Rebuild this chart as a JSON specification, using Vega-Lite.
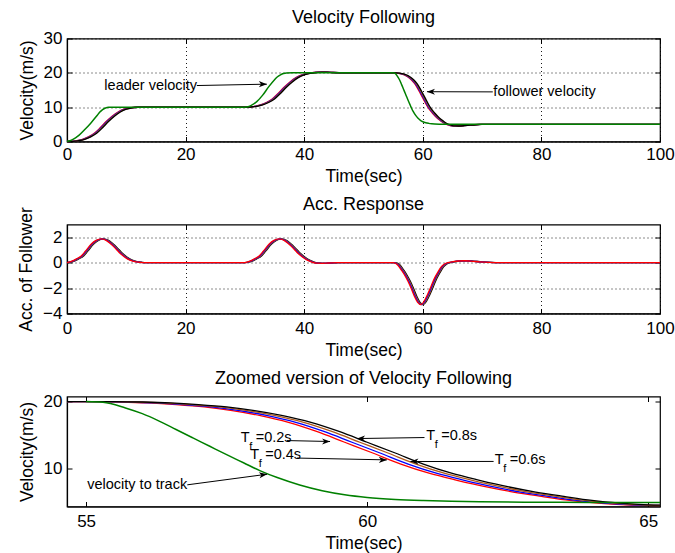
{
"$schema": "https://vega.github.io/schema/vega-lite/v6.json",
"padding": {"left": 17, "top": 7.5, "right": 0, "bottom": 0},
"spacing": 8,
"config": {
 "font": "Liberation Sans",
 "view": {"stroke": "#000", "strokeWidth": 1.2},
 "title": {"fontSize": 18, "fontWeight": "normal", "color": "#000", "offset": 10},
 "axis": {"labelFontSize": 17, "titleFontSize": 17.5, "titleFontWeight": "normal", "labelColor": "#000", "titleColor": "#000", "domainColor": "#000", "domainWidth": 1.2, "tickColor": "#000", "tickSize": -5, "tickWidth": 1, "labelPadding": 10, "titlePadding": 5, "gridColor": "#000", "gridDash": [1, 3], "gridOpacity": 0.9, "gridWidth": 1, "labelFlush": false, "labelOverlap": false},
 "axisY": {"titlePadding": 7}
},
"datasets": {
 "vel": [
  {"s":"0.2","t":0,"v":0},{"s":"0.2","t":0.6,"v":0.05},{"s":"0.2","t":1.6,"v":0.25},{"s":"0.2","t":2.6,"v":0.65},{"s":"0.2","t":3.6,"v":1.35},{"s":"0.2","t":4.6,"v":2.4},{"s":"0.2","t":5.6,"v":4.0},{"s":"0.2","t":6.6,"v":5.8},{"s":"0.2","t":7.6,"v":7.35},{"s":"0.2","t":8.6,"v":8.6},{"s":"0.2","t":9.6,"v":9.4},{"s":"0.2","t":10.6,"v":9.8},{"s":"0.2","t":11.6,"v":9.97},{"s":"0.2","t":12.6,"v":10.02},{"s":"0.2","t":13.6,"v":10.02},{"s":"0.2","t":16,"v":10},{"s":"0.2","t":30,"v":10},
  {"s":"0.2","t":30.6,"v":10.05},{"s":"0.2","t":31.6,"v":10.25},{"s":"0.2","t":32.6,"v":10.65},{"s":"0.2","t":33.6,"v":11.35},{"s":"0.2","t":34.6,"v":12.4},{"s":"0.2","t":35.6,"v":14.0},{"s":"0.2","t":36.6,"v":15.8},{"s":"0.2","t":37.6,"v":17.35},{"s":"0.2","t":38.6,"v":18.6},{"s":"0.2","t":39.6,"v":19.4},{"s":"0.2","t":40.6,"v":19.85},{"s":"0.2","t":41.6,"v":20.1},{"s":"0.2","t":42.6,"v":20.2},{"s":"0.2","t":43.6,"v":20.18},{"s":"0.2","t":44.6,"v":20.1},{"s":"0.2","t":46.6,"v":20.02},{"s":"0.2","t":50,"v":20},{"s":"0.2","t":55,"v":20},
  {"s":"0.2","t":55.1,"v":19.99},{"s":"0.2","t":55.6,"v":19.93},{"s":"0.2","t":56.1,"v":19.8},{"s":"0.2","t":56.6,"v":19.55},{"s":"0.2","t":57.1,"v":19.2},{"s":"0.2","t":57.6,"v":18.65},{"s":"0.2","t":58.1,"v":17.9},{"s":"0.2","t":58.6,"v":16.9},{"s":"0.2","t":59.1,"v":15.55},{"s":"0.2","t":59.6,"v":13.95},{"s":"0.2","t":60.1,"v":12.35},{"s":"0.2","t":60.6,"v":10.7},{"s":"0.2","t":61.1,"v":9.35},{"s":"0.2","t":61.6,"v":8.3},{"s":"0.2","t":62.1,"v":7.35},{"s":"0.2","t":62.6,"v":6.55},{"s":"0.2","t":63.1,"v":5.9},{"s":"0.2","t":63.6,"v":5.3},{"s":"0.2","t":64.1,"v":4.9},{"s":"0.2","t":64.6,"v":4.65},{"s":"0.2","t":65.1,"v":4.55},{"s":"0.2","t":65.6,"v":4.52},{"s":"0.2","t":66.6,"v":4.6},{"s":"0.2","t":67.6,"v":4.75},{"s":"0.2","t":68.6,"v":4.88},{"s":"0.2","t":69.6,"v":4.96},{"s":"0.2","t":71.6,"v":5.0},{"s":"0.2","t":100,"v":5},

  {"s":"0.4","t":0,"v":0},{"s":"0.4","t":0.73,"v":0.05},{"s":"0.4","t":1.73,"v":0.25},{"s":"0.4","t":2.73,"v":0.65},{"s":"0.4","t":3.73,"v":1.35},{"s":"0.4","t":4.73,"v":2.4},{"s":"0.4","t":5.73,"v":4.0},{"s":"0.4","t":6.73,"v":5.8},{"s":"0.4","t":7.73,"v":7.35},{"s":"0.4","t":8.73,"v":8.6},{"s":"0.4","t":9.73,"v":9.4},{"s":"0.4","t":10.73,"v":9.8},{"s":"0.4","t":11.73,"v":9.97},{"s":"0.4","t":12.73,"v":10.02},{"s":"0.4","t":13.73,"v":10.02},{"s":"0.4","t":16,"v":10},{"s":"0.4","t":30,"v":10},
  {"s":"0.4","t":30.73,"v":10.05},{"s":"0.4","t":31.73,"v":10.25},{"s":"0.4","t":32.73,"v":10.65},{"s":"0.4","t":33.73,"v":11.35},{"s":"0.4","t":34.73,"v":12.4},{"s":"0.4","t":35.73,"v":14.0},{"s":"0.4","t":36.73,"v":15.8},{"s":"0.4","t":37.73,"v":17.35},{"s":"0.4","t":38.73,"v":18.6},{"s":"0.4","t":39.73,"v":19.4},{"s":"0.4","t":40.73,"v":19.85},{"s":"0.4","t":41.73,"v":20.1},{"s":"0.4","t":42.73,"v":20.2},{"s":"0.4","t":43.73,"v":20.18},{"s":"0.4","t":44.73,"v":20.1},{"s":"0.4","t":46.73,"v":20.02},{"s":"0.4","t":50,"v":20},{"s":"0.4","t":55,"v":20},
  {"s":"0.4","t":55.23,"v":19.99},{"s":"0.4","t":55.73,"v":19.93},{"s":"0.4","t":56.23,"v":19.8},{"s":"0.4","t":56.73,"v":19.55},{"s":"0.4","t":57.23,"v":19.2},{"s":"0.4","t":57.73,"v":18.65},{"s":"0.4","t":58.23,"v":17.9},{"s":"0.4","t":58.73,"v":16.9},{"s":"0.4","t":59.23,"v":15.55},{"s":"0.4","t":59.73,"v":13.95},{"s":"0.4","t":60.23,"v":12.35},{"s":"0.4","t":60.73,"v":10.7},{"s":"0.4","t":61.23,"v":9.35},{"s":"0.4","t":61.73,"v":8.3},{"s":"0.4","t":62.23,"v":7.35},{"s":"0.4","t":62.73,"v":6.55},{"s":"0.4","t":63.23,"v":5.9},{"s":"0.4","t":63.73,"v":5.3},{"s":"0.4","t":64.23,"v":4.9},{"s":"0.4","t":64.73,"v":4.65},{"s":"0.4","t":65.23,"v":4.55},{"s":"0.4","t":65.73,"v":4.52},{"s":"0.4","t":66.73,"v":4.6},{"s":"0.4","t":67.73,"v":4.75},{"s":"0.4","t":68.73,"v":4.88},{"s":"0.4","t":69.73,"v":4.96},{"s":"0.4","t":71.73,"v":5.0},{"s":"0.4","t":100,"v":5},

  {"s":"0.6","t":0,"v":0},{"s":"0.6","t":0.87,"v":0.05},{"s":"0.6","t":1.87,"v":0.25},{"s":"0.6","t":2.87,"v":0.65},{"s":"0.6","t":3.87,"v":1.35},{"s":"0.6","t":4.87,"v":2.4},{"s":"0.6","t":5.87,"v":4.0},{"s":"0.6","t":6.87,"v":5.8},{"s":"0.6","t":7.87,"v":7.35},{"s":"0.6","t":8.87,"v":8.6},{"s":"0.6","t":9.87,"v":9.4},{"s":"0.6","t":10.87,"v":9.8},{"s":"0.6","t":11.87,"v":9.97},{"s":"0.6","t":12.87,"v":10.02},{"s":"0.6","t":13.87,"v":10.02},{"s":"0.6","t":16,"v":10},{"s":"0.6","t":30,"v":10},
  {"s":"0.6","t":30.87,"v":10.05},{"s":"0.6","t":31.87,"v":10.25},{"s":"0.6","t":32.87,"v":10.65},{"s":"0.6","t":33.87,"v":11.35},{"s":"0.6","t":34.87,"v":12.4},{"s":"0.6","t":35.87,"v":14.0},{"s":"0.6","t":36.87,"v":15.8},{"s":"0.6","t":37.87,"v":17.35},{"s":"0.6","t":38.87,"v":18.6},{"s":"0.6","t":39.87,"v":19.4},{"s":"0.6","t":40.87,"v":19.85},{"s":"0.6","t":41.87,"v":20.1},{"s":"0.6","t":42.87,"v":20.2},{"s":"0.6","t":43.87,"v":20.18},{"s":"0.6","t":44.87,"v":20.1},{"s":"0.6","t":46.87,"v":20.02},{"s":"0.6","t":50,"v":20},{"s":"0.6","t":55,"v":20},
  {"s":"0.6","t":55.37,"v":19.99},{"s":"0.6","t":55.87,"v":19.93},{"s":"0.6","t":56.37,"v":19.8},{"s":"0.6","t":56.87,"v":19.55},{"s":"0.6","t":57.37,"v":19.2},{"s":"0.6","t":57.87,"v":18.65},{"s":"0.6","t":58.37,"v":17.9},{"s":"0.6","t":58.87,"v":16.9},{"s":"0.6","t":59.37,"v":15.55},{"s":"0.6","t":59.87,"v":13.95},{"s":"0.6","t":60.37,"v":12.35},{"s":"0.6","t":60.87,"v":10.7},{"s":"0.6","t":61.37,"v":9.35},{"s":"0.6","t":61.87,"v":8.3},{"s":"0.6","t":62.37,"v":7.35},{"s":"0.6","t":62.87,"v":6.55},{"s":"0.6","t":63.37,"v":5.9},{"s":"0.6","t":63.87,"v":5.3},{"s":"0.6","t":64.37,"v":4.9},{"s":"0.6","t":64.87,"v":4.65},{"s":"0.6","t":65.37,"v":4.55},{"s":"0.6","t":65.87,"v":4.52},{"s":"0.6","t":66.87,"v":4.6},{"s":"0.6","t":67.87,"v":4.75},{"s":"0.6","t":68.87,"v":4.88},{"s":"0.6","t":69.87,"v":4.96},{"s":"0.6","t":71.87,"v":5.0},{"s":"0.6","t":100,"v":5},

  {"s":"0.8","t":0,"v":0},{"s":"0.8","t":1,"v":0.05},{"s":"0.8","t":2,"v":0.25},{"s":"0.8","t":3,"v":0.65},{"s":"0.8","t":4,"v":1.35},{"s":"0.8","t":5,"v":2.4},{"s":"0.8","t":6,"v":4.0},{"s":"0.8","t":7,"v":5.8},{"s":"0.8","t":8,"v":7.35},{"s":"0.8","t":9,"v":8.6},{"s":"0.8","t":10,"v":9.4},{"s":"0.8","t":11,"v":9.8},{"s":"0.8","t":12,"v":9.97},{"s":"0.8","t":13,"v":10.02},{"s":"0.8","t":14,"v":10.02},{"s":"0.8","t":16,"v":10},{"s":"0.8","t":30,"v":10},
  {"s":"0.8","t":31,"v":10.05},{"s":"0.8","t":32,"v":10.25},{"s":"0.8","t":33,"v":10.65},{"s":"0.8","t":34,"v":11.35},{"s":"0.8","t":35,"v":12.4},{"s":"0.8","t":36,"v":14.0},{"s":"0.8","t":37,"v":15.8},{"s":"0.8","t":38,"v":17.35},{"s":"0.8","t":39,"v":18.6},{"s":"0.8","t":40,"v":19.4},{"s":"0.8","t":41,"v":19.85},{"s":"0.8","t":42,"v":20.1},{"s":"0.8","t":43,"v":20.2},{"s":"0.8","t":44,"v":20.18},{"s":"0.8","t":45,"v":20.1},{"s":"0.8","t":47,"v":20.02},{"s":"0.8","t":50,"v":20},{"s":"0.8","t":55,"v":20},
  {"s":"0.8","t":55.5,"v":19.99},{"s":"0.8","t":56,"v":19.93},{"s":"0.8","t":56.5,"v":19.8},{"s":"0.8","t":57,"v":19.55},{"s":"0.8","t":57.5,"v":19.2},{"s":"0.8","t":58,"v":18.65},{"s":"0.8","t":58.5,"v":17.9},{"s":"0.8","t":59,"v":16.9},{"s":"0.8","t":59.5,"v":15.55},{"s":"0.8","t":60,"v":13.95},{"s":"0.8","t":60.5,"v":12.35},{"s":"0.8","t":61,"v":10.7},{"s":"0.8","t":61.5,"v":9.35},{"s":"0.8","t":62,"v":8.3},{"s":"0.8","t":62.5,"v":7.35},{"s":"0.8","t":63,"v":6.55},{"s":"0.8","t":63.5,"v":5.9},{"s":"0.8","t":64,"v":5.3},{"s":"0.8","t":64.5,"v":4.9},{"s":"0.8","t":65,"v":4.65},{"s":"0.8","t":65.5,"v":4.55},{"s":"0.8","t":66,"v":4.52},{"s":"0.8","t":67,"v":4.6},{"s":"0.8","t":68,"v":4.75},{"s":"0.8","t":69,"v":4.88},{"s":"0.8","t":70,"v":4.96},{"s":"0.8","t":72,"v":5.0},{"s":"0.8","t":100,"v":5}
 ],
 "lead": [
  {"t":0,"v":0},{"t":0.5,"v":0.2},{"t":1,"v":0.6},{"t":1.5,"v":1.15},{"t":2,"v":1.8},{"t":3,"v":3.5},{"t":4,"v":5.35},{"t":5,"v":7.4},{"t":5.5,"v":8.5},{"t":6,"v":9.3},{"t":6.5,"v":9.75},{"t":7,"v":9.95},{"t":8,"v":10},{"t":30,"v":10},
  {"t":30.5,"v":10.1},{"t":31,"v":10.45},{"t":32,"v":11.6},{"t":33,"v":13.5},{"t":34,"v":15.9},{"t":35,"v":18},{"t":35.5,"v":18.85},{"t":36,"v":19.4},{"t":36.5,"v":19.78},{"t":37,"v":19.95},{"t":38,"v":20},{"t":55,"v":20},
  {"t":55.3,"v":19.9},{"t":55.7,"v":19.05},{"t":56,"v":18.2},{"t":56.3,"v":17.1},{"t":56.6,"v":15.85},{"t":56.9,"v":14.6},{"t":57.2,"v":13.35},{"t":57.5,"v":12.1},{"t":57.8,"v":10.9},{"t":58.1,"v":9.7},{"t":58.4,"v":8.7},{"t":58.8,"v":7.6},{"t":59.2,"v":6.75},{"t":59.6,"v":6.15},{"t":60,"v":5.75},{"t":60.5,"v":5.45},{"t":61,"v":5.28},{"t":61.5,"v":5.17},{"t":62,"v":5.1},{"t":63,"v":5.04},{"t":64,"v":5.01},{"t":65,"v":5},{"t":100,"v":5}
 ],
 "acc": [
  {"s":"0.8","t":0,"a":0},{"s":"0.8","t":1,"a":0.08},{"s":"0.8","t":2,"a":0.3},{"s":"0.8","t":2.8,"a":0.53},{"s":"0.8","t":3.5,"a":0.9},{"s":"0.8","t":4.5,"a":1.47},{"s":"0.8","t":5.3,"a":1.75},{"s":"0.8","t":6.2,"a":1.87},{"s":"0.8","t":7,"a":1.75},{"s":"0.8","t":7.7,"a":1.5},{"s":"0.8","t":8.4,"a":1.2},{"s":"0.8","t":9.2,"a":0.8},{"s":"0.8","t":10.1,"a":0.45},{"s":"0.8","t":11,"a":0.2},{"s":"0.8","t":11.8,"a":0.08},{"s":"0.8","t":12.6,"a":0.03},{"s":"0.8","t":13.5,"a":0},{"s":"0.8","t":30,"a":0},
  {"s":"0.8","t":31,"a":0.08},{"s":"0.8","t":32,"a":0.3},{"s":"0.8","t":32.8,"a":0.53},{"s":"0.8","t":33.5,"a":0.9},{"s":"0.8","t":34.5,"a":1.47},{"s":"0.8","t":35.3,"a":1.75},{"s":"0.8","t":36.2,"a":1.87},{"s":"0.8","t":37,"a":1.75},{"s":"0.8","t":37.7,"a":1.5},{"s":"0.8","t":38.4,"a":1.2},{"s":"0.8","t":39.2,"a":0.8},{"s":"0.8","t":40.1,"a":0.45},{"s":"0.8","t":41,"a":0.18},{"s":"0.8","t":41.8,"a":0.03},{"s":"0.8","t":42.6,"a":-0.04},{"s":"0.8","t":43.5,"a":-0.05},{"s":"0.8","t":44.5,"a":-0.03},{"s":"0.8","t":46,"a":0},{"s":"0.8","t":55,"a":0},
  {"s":"0.8","t":55.6,"a":-0.02},{"s":"0.8","t":56.2,"a":-0.2},{"s":"0.8","t":56.7,"a":-0.53},{"s":"0.8","t":57.3,"a":-0.95},{"s":"0.8","t":57.9,"a":-1.47},{"s":"0.8","t":58.5,"a":-2.1},{"s":"0.8","t":59,"a":-2.67},{"s":"0.8","t":59.5,"a":-3.1},{"s":"0.8","t":60.1,"a":-3.3},{"s":"0.8","t":60.6,"a":-3.05},{"s":"0.8","t":61.2,"a":-2.5},{"s":"0.8","t":61.8,"a":-1.85},{"s":"0.8","t":62.4,"a":-1.2},{"s":"0.8","t":63,"a":-0.7},{"s":"0.8","t":63.5,"a":-0.34},{"s":"0.8","t":64,"a":-0.12},{"s":"0.8","t":64.6,"a":0},{"s":"0.8","t":65.5,"a":0.08},{"s":"0.8","t":66.5,"a":0.13},{"s":"0.8","t":67.4,"a":0.15},{"s":"0.8","t":68.5,"a":0.12},{"s":"0.8","t":70,"a":0.06},{"s":"0.8","t":71.5,"a":0.02},{"s":"0.8","t":73,"a":0},{"s":"0.8","t":100,"a":0},

  {"s":"0.6","t":0,"a":0},{"s":"0.6","t":0.87,"a":0.08},{"s":"0.6","t":1.87,"a":0.3},{"s":"0.6","t":2.67,"a":0.53},{"s":"0.6","t":3.37,"a":0.9},{"s":"0.6","t":4.37,"a":1.47},{"s":"0.6","t":5.17,"a":1.75},{"s":"0.6","t":6.07,"a":1.87},{"s":"0.6","t":6.87,"a":1.75},{"s":"0.6","t":7.57,"a":1.5},{"s":"0.6","t":8.27,"a":1.2},{"s":"0.6","t":9.07,"a":0.8},{"s":"0.6","t":9.97,"a":0.45},{"s":"0.6","t":10.87,"a":0.2},{"s":"0.6","t":11.67,"a":0.08},{"s":"0.6","t":12.47,"a":0.03},{"s":"0.6","t":13.37,"a":0},{"s":"0.6","t":30,"a":0},
  {"s":"0.6","t":30.87,"a":0.08},{"s":"0.6","t":31.87,"a":0.3},{"s":"0.6","t":32.67,"a":0.53},{"s":"0.6","t":33.37,"a":0.9},{"s":"0.6","t":34.37,"a":1.47},{"s":"0.6","t":35.17,"a":1.75},{"s":"0.6","t":36.07,"a":1.87},{"s":"0.6","t":36.87,"a":1.75},{"s":"0.6","t":37.57,"a":1.5},{"s":"0.6","t":38.27,"a":1.2},{"s":"0.6","t":39.07,"a":0.8},{"s":"0.6","t":39.97,"a":0.45},{"s":"0.6","t":40.87,"a":0.18},{"s":"0.6","t":41.67,"a":0.03},{"s":"0.6","t":42.47,"a":-0.04},{"s":"0.6","t":43.37,"a":-0.05},{"s":"0.6","t":44.37,"a":-0.03},{"s":"0.6","t":45.87,"a":0},{"s":"0.6","t":55,"a":0},
  {"s":"0.6","t":55.47,"a":-0.02},{"s":"0.6","t":56.07,"a":-0.2},{"s":"0.6","t":56.57,"a":-0.53},{"s":"0.6","t":57.17,"a":-0.95},{"s":"0.6","t":57.77,"a":-1.47},{"s":"0.6","t":58.37,"a":-2.1},{"s":"0.6","t":58.87,"a":-2.67},{"s":"0.6","t":59.37,"a":-3.1},{"s":"0.6","t":59.97,"a":-3.3},{"s":"0.6","t":60.47,"a":-3.05},{"s":"0.6","t":61.07,"a":-2.5},{"s":"0.6","t":61.67,"a":-1.85},{"s":"0.6","t":62.27,"a":-1.2},{"s":"0.6","t":62.87,"a":-0.7},{"s":"0.6","t":63.37,"a":-0.34},{"s":"0.6","t":63.87,"a":-0.12},{"s":"0.6","t":64.47,"a":0},{"s":"0.6","t":65.37,"a":0.08},{"s":"0.6","t":66.37,"a":0.13},{"s":"0.6","t":67.27,"a":0.15},{"s":"0.6","t":68.37,"a":0.12},{"s":"0.6","t":69.87,"a":0.06},{"s":"0.6","t":71.37,"a":0.02},{"s":"0.6","t":72.87,"a":0},{"s":"0.6","t":100,"a":0},

  {"s":"0.4","t":0,"a":0},{"s":"0.4","t":0.73,"a":0.08},{"s":"0.4","t":1.73,"a":0.3},{"s":"0.4","t":2.53,"a":0.53},{"s":"0.4","t":3.23,"a":0.9},{"s":"0.4","t":4.23,"a":1.47},{"s":"0.4","t":5.03,"a":1.75},{"s":"0.4","t":5.93,"a":1.87},{"s":"0.4","t":6.73,"a":1.75},{"s":"0.4","t":7.43,"a":1.5},{"s":"0.4","t":8.13,"a":1.2},{"s":"0.4","t":8.93,"a":0.8},{"s":"0.4","t":9.83,"a":0.45},{"s":"0.4","t":10.73,"a":0.2},{"s":"0.4","t":11.53,"a":0.08},{"s":"0.4","t":12.33,"a":0.03},{"s":"0.4","t":13.23,"a":0},{"s":"0.4","t":30,"a":0},
  {"s":"0.4","t":30.73,"a":0.08},{"s":"0.4","t":31.73,"a":0.3},{"s":"0.4","t":32.53,"a":0.53},{"s":"0.4","t":33.23,"a":0.9},{"s":"0.4","t":34.23,"a":1.47},{"s":"0.4","t":35.03,"a":1.75},{"s":"0.4","t":35.93,"a":1.87},{"s":"0.4","t":36.73,"a":1.75},{"s":"0.4","t":37.43,"a":1.5},{"s":"0.4","t":38.13,"a":1.2},{"s":"0.4","t":38.93,"a":0.8},{"s":"0.4","t":39.83,"a":0.45},{"s":"0.4","t":40.73,"a":0.18},{"s":"0.4","t":41.53,"a":0.03},{"s":"0.4","t":42.33,"a":-0.04},{"s":"0.4","t":43.23,"a":-0.05},{"s":"0.4","t":44.23,"a":-0.03},{"s":"0.4","t":45.73,"a":0},{"s":"0.4","t":55,"a":0},
  {"s":"0.4","t":55.33,"a":-0.02},{"s":"0.4","t":55.93,"a":-0.2},{"s":"0.4","t":56.43,"a":-0.53},{"s":"0.4","t":57.03,"a":-0.95},{"s":"0.4","t":57.63,"a":-1.47},{"s":"0.4","t":58.23,"a":-2.1},{"s":"0.4","t":58.73,"a":-2.67},{"s":"0.4","t":59.23,"a":-3.1},{"s":"0.4","t":59.83,"a":-3.3},{"s":"0.4","t":60.33,"a":-3.05},{"s":"0.4","t":60.93,"a":-2.5},{"s":"0.4","t":61.53,"a":-1.85},{"s":"0.4","t":62.13,"a":-1.2},{"s":"0.4","t":62.73,"a":-0.7},{"s":"0.4","t":63.23,"a":-0.34},{"s":"0.4","t":63.73,"a":-0.12},{"s":"0.4","t":64.33,"a":0},{"s":"0.4","t":65.23,"a":0.08},{"s":"0.4","t":66.23,"a":0.13},{"s":"0.4","t":67.13,"a":0.15},{"s":"0.4","t":68.23,"a":0.12},{"s":"0.4","t":69.73,"a":0.06},{"s":"0.4","t":71.23,"a":0.02},{"s":"0.4","t":72.73,"a":0},{"s":"0.4","t":100,"a":0},

  {"s":"0.2","t":0,"a":0},{"s":"0.2","t":0.6,"a":0.08},{"s":"0.2","t":1.6,"a":0.3},{"s":"0.2","t":2.4,"a":0.53},{"s":"0.2","t":3.1,"a":0.9},{"s":"0.2","t":4.1,"a":1.47},{"s":"0.2","t":4.9,"a":1.75},{"s":"0.2","t":5.8,"a":1.87},{"s":"0.2","t":6.6,"a":1.75},{"s":"0.2","t":7.3,"a":1.5},{"s":"0.2","t":8.0,"a":1.2},{"s":"0.2","t":8.8,"a":0.8},{"s":"0.2","t":9.7,"a":0.45},{"s":"0.2","t":10.6,"a":0.2},{"s":"0.2","t":11.4,"a":0.08},{"s":"0.2","t":12.2,"a":0.03},{"s":"0.2","t":13.1,"a":0},{"s":"0.2","t":30,"a":0},
  {"s":"0.2","t":30.6,"a":0.08},{"s":"0.2","t":31.6,"a":0.3},{"s":"0.2","t":32.4,"a":0.53},{"s":"0.2","t":33.1,"a":0.9},{"s":"0.2","t":34.1,"a":1.47},{"s":"0.2","t":34.9,"a":1.75},{"s":"0.2","t":35.8,"a":1.87},{"s":"0.2","t":36.6,"a":1.75},{"s":"0.2","t":37.3,"a":1.5},{"s":"0.2","t":38.0,"a":1.2},{"s":"0.2","t":38.8,"a":0.8},{"s":"0.2","t":39.7,"a":0.45},{"s":"0.2","t":40.6,"a":0.18},{"s":"0.2","t":41.4,"a":0.03},{"s":"0.2","t":42.2,"a":-0.04},{"s":"0.2","t":43.1,"a":-0.05},{"s":"0.2","t":44.1,"a":-0.03},{"s":"0.2","t":45.6,"a":0},{"s":"0.2","t":55,"a":0},
  {"s":"0.2","t":55.2,"a":-0.02},{"s":"0.2","t":55.8,"a":-0.2},{"s":"0.2","t":56.3,"a":-0.53},{"s":"0.2","t":56.9,"a":-0.95},{"s":"0.2","t":57.5,"a":-1.47},{"s":"0.2","t":58.1,"a":-2.1},{"s":"0.2","t":58.6,"a":-2.67},{"s":"0.2","t":59.1,"a":-3.1},{"s":"0.2","t":59.7,"a":-3.3},{"s":"0.2","t":60.2,"a":-3.05},{"s":"0.2","t":60.8,"a":-2.5},{"s":"0.2","t":61.4,"a":-1.85},{"s":"0.2","t":62.0,"a":-1.2},{"s":"0.2","t":62.6,"a":-0.7},{"s":"0.2","t":63.1,"a":-0.34},{"s":"0.2","t":63.6,"a":-0.12},{"s":"0.2","t":64.2,"a":0},{"s":"0.2","t":65.1,"a":0.08},{"s":"0.2","t":66.1,"a":0.13},{"s":"0.2","t":67.0,"a":0.15},{"s":"0.2","t":68.1,"a":0.12},{"s":"0.2","t":69.6,"a":0.06},{"s":"0.2","t":71.1,"a":0.02},{"s":"0.2","t":72.6,"a":0},{"s":"0.2","t":100,"a":0}
 ],
 "ann": [
  {"p":1,"label":"leader velocity","sub":false,"tx":6.3,"ty":16.3,"x1":21.9,"y1":16.3,"x2":33.7,"y2":16.7},
  {"p":1,"label":"follower velocity","sub":false,"tx":71.9,"ty":14.4,"x1":71.8,"y1":14.45,"x2":60.7,"y2":14.5},
  {"p":3,"label":"velocity to track","sub":false,"tx":55.02,"ty":7.62,"x1":56.8,"y1":7.62,"x2":58.22,"y2":9.2},
  {"p":3,"label":"=0.2s","sub":true,"tx":57.75,"ty":14.55,"x1":58.57,"y1":14.2,"x2":59.34,"y2":14.06},
  {"p":3,"label":"=0.4s","sub":true,"tx":57.92,"ty":12.08,"x1":58.75,"y1":11.6,"x2":60.35,"y2":11.33},
  {"p":3,"label":"=0.8s","sub":true,"tx":61.05,"ty":14.95,"x1":61.02,"y1":14.65,"x2":59.82,"y2":14.5},
  {"p":3,"label":"=0.6s","sub":true,"tx":62.27,"ty":11.28,"x1":62.25,"y1":11.1,"x2":60.77,"y2":11.08}
 ]
},
"vconcat": [
 {
  "width": 593, "height": 103,
  "title": {"text": "Velocity Following", "offset": 2.5},
  "resolve": {"axis": {"x": "independent", "y": "independent"}},
  "layer": [
   {"data": {"name": "vel"}, "mark": {"type": "line", "strokeWidth": 1.3, "interpolate": "monotone"},
    "encoding": {
     "x": {"field": "t", "type": "quantitative", "scale": {"domain": [0, 100], "nice": false, "zero": false}, "axis": {"values": [0, 20, 40, 60, 80, 100], "title": "Time(sec)", "grid": true}},
     "y": {"field": "v", "type": "quantitative", "scale": {"domain": [0, 30], "nice": false, "zero": false}, "axis": {"values": [0, 10, 20, 30], "title": "Velocity(m/s)", "grid": true}},
     "color": {"field": "s", "type": "nominal", "scale": {"domain": ["0.2", "0.4", "0.6", "0.8"], "range": ["#ff0000", "#0000ff", "#b0581c", "#000000"]}, "legend": null}}},
   {"data": {"name": "lead"}, "mark": {"type": "line", "strokeWidth": 1.5, "interpolate": "monotone", "color": "#008000"},
    "encoding": {
     "x": {"field": "t", "type": "quantitative", "scale": {"domain": [0, 100], "nice": false, "zero": false}, "axis": null},
     "y": {"field": "v", "type": "quantitative", "scale": {"domain": [0, 30], "nice": false, "zero": false}, "axis": null}}},
   {"data": {"name": "lead"}, "mark": {"type": "point", "opacity": 0},
    "encoding": {
     "x": {"field": "t", "type": "quantitative", "scale": {"domain": [0, 100], "nice": false, "zero": false}, "axis": {"orient": "top", "values": [0, 20, 40, 60, 80, 100], "labels": false, "title": null, "grid": false, "domain": false}},
     "y": {"field": "v", "type": "quantitative", "scale": {"domain": [0, 30], "nice": false, "zero": false}, "axis": {"orient": "right", "values": [0, 10, 20, 30], "labels": false, "title": null, "grid": false, "domain": false}}}},
   {"data": {"name": "ann"}, "transform": [{"filter": "datum.p == 1"}], "mark": {"type": "rule", "color": "#000", "strokeWidth": 1},
    "encoding": {
     "x": {"field": "x1", "type": "quantitative", "scale": {"domain": [0, 100], "nice": false, "zero": false}, "axis": null},
     "y": {"field": "y1", "type": "quantitative", "scale": {"domain": [0, 30], "nice": false, "zero": false}, "axis": null},
     "x2": {"field": "x2"}, "y2": {"field": "y2"}}},
   {"data": {"name": "ann"}, "transform": [{"filter": "datum.p == 1"}], "mark": {"type": "text", "align": "left", "baseline": "middle", "fontSize": 14.5, "color": "#000"},
    "encoding": {
     "x": {"field": "tx", "type": "quantitative", "scale": {"domain": [0, 100], "nice": false, "zero": false}, "axis": null},
     "y": {"field": "ty", "type": "quantitative", "scale": {"domain": [0, 30], "nice": false, "zero": false}, "axis": null},
     "text": {"field": "label"}}},
   {"data": {"name": "ann"}, "transform": [{"filter": "datum.p == 1 && datum.x2 > datum.x1"}], "mark": {"type": "point", "filled": true, "opacity": 1, "color": "#000", "size": 256, "strokeWidth": 0, "shape": "M0,0L-1,-0.38L-0.72,0L-1,0.38Z"},
    "encoding": {
     "x": {"field": "x2", "type": "quantitative", "scale": {"domain": [0, 100], "nice": false, "zero": false}, "axis": null},
     "y": {"field": "y2", "type": "quantitative", "scale": {"domain": [0, 30], "nice": false, "zero": false}, "axis": null}}},
   {"data": {"name": "ann"}, "transform": [{"filter": "datum.p == 1 && datum.x2 < datum.x1"}], "mark": {"type": "point", "filled": true, "opacity": 1, "color": "#000", "size": 256, "strokeWidth": 0, "shape": "M0,0L1,-0.38L0.72,0L1,0.38Z"},
    "encoding": {
     "x": {"field": "x2", "type": "quantitative", "scale": {"domain": [0, 100], "nice": false, "zero": false}, "axis": null},
     "y": {"field": "y2", "type": "quantitative", "scale": {"domain": [0, 30], "nice": false, "zero": false}, "axis": null}}}
  ]
 },
 {
  "width": 593, "height": 89,
  "title": {"text": "Acc. Response", "offset": -7},
  "resolve": {"axis": {"x": "independent", "y": "independent"}},
  "layer": [
   {"data": {"name": "acc"}, "mark": {"type": "line", "strokeWidth": 1.3, "interpolate": "monotone"},
    "encoding": {
     "x": {"field": "t", "type": "quantitative", "scale": {"domain": [0, 100], "nice": false, "zero": false}, "axis": {"values": [0, 20, 40, 60, 80, 100], "title": "Time(sec)", "grid": true, "labelPadding": 12}},
     "y": {"field": "a", "type": "quantitative", "scale": {"domain": [-4, 3], "nice": false, "zero": false}, "axis": {"values": [-4, -2, 0, 2], "title": "Acc. of Follower", "grid": true}},
     "color": {"field": "s", "type": "nominal", "scale": {"domain": ["0.2", "0.4", "0.6", "0.8"], "range": ["#ff0000", "#0000ff", "#b0581c", "#000000"]}, "legend": null}}},
   {"data": {"name": "acc"}, "mark": {"type": "point", "opacity": 0},
    "encoding": {
     "x": {"field": "t", "type": "quantitative", "scale": {"domain": [0, 100], "nice": false, "zero": false}, "axis": {"orient": "top", "values": [0, 20, 40, 60, 80, 100], "labels": false, "title": null, "grid": false, "domain": false}},
     "y": {"field": "a", "type": "quantitative", "scale": {"domain": [-4, 3], "nice": false, "zero": false}, "axis": {"orient": "right", "values": [-4, -2, 0, 2], "labels": false, "title": null, "grid": false, "domain": false}}}}
  ]
 },
 {
  "width": 593, "height": 110,
  "title": {"text": "Zoomed version of Velocity Following", "offset": 5},
  "resolve": {"axis": {"x": "independent", "y": "independent"}},
  "layer": [
   {"data": {"name": "vel"}, "transform": [{"filter": "datum.t >= 50 && datum.t <= 72"}], "mark": {"type": "line", "strokeWidth": 1.3, "interpolate": "monotone", "clip": true},
    "encoding": {
     "x": {"field": "t", "type": "quantitative", "scale": {"domain": [54.66, 65.21], "nice": false, "zero": false}, "axis": {"values": [55, 60, 65], "title": "Time(sec)", "grid": false, "labelPadding": 12}},
     "y": {"field": "v", "type": "quantitative", "scale": {"domain": [4.4, 20.75], "nice": false, "zero": false}, "axis": {"values": [10, 20], "title": "Velocity(m/s)", "grid": false}},
     "color": {"field": "s", "type": "nominal", "scale": {"domain": ["0.2", "0.4", "0.6", "0.8"], "range": ["#ff0000", "#0000ff", "#b0581c", "#000000"]}, "legend": null}}},
   {"data": {"name": "lead"}, "transform": [{"filter": "datum.t >= 50 && datum.t <= 100"}], "mark": {"type": "line", "strokeWidth": 1.5, "interpolate": "monotone", "color": "#008000", "clip": true},
    "encoding": {
     "x": {"field": "t", "type": "quantitative", "scale": {"domain": [54.66, 65.21], "nice": false, "zero": false}, "axis": null},
     "y": {"field": "v", "type": "quantitative", "scale": {"domain": [4.4, 20.75], "nice": false, "zero": false}, "axis": null}}},
   {"data": {"name": "lead"}, "transform": [{"filter": "datum.t >= 55 && datum.t <= 65"}], "mark": {"type": "point", "opacity": 0},
    "encoding": {
     "x": {"field": "t", "type": "quantitative", "scale": {"domain": [54.66, 65.21], "nice": false, "zero": false}, "axis": {"orient": "top", "values": [55, 60, 65], "labels": false, "title": null, "grid": false, "domain": false}},
     "y": {"field": "v", "type": "quantitative", "scale": {"domain": [4.4, 20.75], "nice": false, "zero": false}, "axis": {"orient": "right", "values": [10, 20], "labels": false, "title": null, "grid": false, "domain": false}}}},
   {"data": {"name": "ann"}, "transform": [{"filter": "datum.p == 3"}], "mark": {"type": "rule", "color": "#000", "strokeWidth": 1},
    "encoding": {
     "x": {"field": "x1", "type": "quantitative", "scale": {"domain": [54.66, 65.21], "nice": false, "zero": false}, "axis": null},
     "y": {"field": "y1", "type": "quantitative", "scale": {"domain": [4.4, 20.75], "nice": false, "zero": false}, "axis": null},
     "x2": {"field": "x2"}, "y2": {"field": "y2"}}},
   {"data": {"name": "ann"}, "transform": [{"filter": "datum.p == 3 && !datum.sub"}], "mark": {"type": "text", "align": "left", "baseline": "middle", "fontSize": 14.5, "color": "#000"},
    "encoding": {
     "x": {"field": "tx", "type": "quantitative", "scale": {"domain": [54.66, 65.21], "nice": false, "zero": false}, "axis": null},
     "y": {"field": "ty", "type": "quantitative", "scale": {"domain": [4.4, 20.75], "nice": false, "zero": false}, "axis": null},
     "text": {"field": "label"}}},
   {"data": {"name": "ann"}, "transform": [{"filter": "datum.p == 3 && datum.sub"}], "mark": {"type": "text", "align": "left", "baseline": "middle", "fontSize": 14.5, "color": "#000"},
    "encoding": {
     "x": {"field": "tx", "type": "quantitative", "scale": {"domain": [54.66, 65.21], "nice": false, "zero": false}, "axis": null},
     "y": {"field": "ty", "type": "quantitative", "scale": {"domain": [4.4, 20.75], "nice": false, "zero": false}, "axis": null},
     "text": {"value": "T"}}},
   {"data": {"name": "ann"}, "transform": [{"filter": "datum.p == 3 && datum.sub"}], "mark": {"type": "text", "align": "left", "baseline": "middle", "fontSize": 11, "color": "#000", "dx": 8.6, "dy": 9},
    "encoding": {
     "x": {"field": "tx", "type": "quantitative", "scale": {"domain": [54.66, 65.21], "nice": false, "zero": false}, "axis": null},
     "y": {"field": "ty", "type": "quantitative", "scale": {"domain": [4.4, 20.75], "nice": false, "zero": false}, "axis": null},
     "text": {"value": "f"}}},
   {"data": {"name": "ann"}, "transform": [{"filter": "datum.p == 3 && datum.sub"}], "mark": {"type": "text", "align": "left", "baseline": "middle", "fontSize": 14.5, "color": "#000", "dx": 15},
    "encoding": {
     "x": {"field": "tx", "type": "quantitative", "scale": {"domain": [54.66, 65.21], "nice": false, "zero": false}, "axis": null},
     "y": {"field": "ty", "type": "quantitative", "scale": {"domain": [4.4, 20.75], "nice": false, "zero": false}, "axis": null},
     "text": {"field": "label"}}},
   {"data": {"name": "ann"}, "transform": [{"filter": "datum.p == 3 && datum.x2 > datum.x1 && datum.sub"}], "mark": {"type": "point", "filled": true, "opacity": 1, "color": "#000", "size": 256, "strokeWidth": 0, "shape": "M0,0L-1,-0.38L-0.72,0L-1,0.38Z"},
    "encoding": {
     "x": {"field": "x2", "type": "quantitative", "scale": {"domain": [54.66, 65.21], "nice": false, "zero": false}, "axis": null},
     "y": {"field": "y2", "type": "quantitative", "scale": {"domain": [4.4, 20.75], "nice": false, "zero": false}, "axis": null}}},
   {"data": {"name": "ann"}, "transform": [{"filter": "datum.p == 3 && !datum.sub"}], "mark": {"type": "point", "filled": true, "opacity": 1, "color": "#000", "size": 256, "strokeWidth": 0, "angle": -8, "shape": "M0,0L-1,-0.38L-0.72,0L-1,0.38Z"},
    "encoding": {
     "x": {"field": "x2", "type": "quantitative", "scale": {"domain": [54.66, 65.21], "nice": false, "zero": false}, "axis": null},
     "y": {"field": "y2", "type": "quantitative", "scale": {"domain": [4.4, 20.75], "nice": false, "zero": false}, "axis": null}}},
   {"data": {"name": "ann"}, "transform": [{"filter": "datum.p == 3 && datum.x2 < datum.x1"}], "mark": {"type": "point", "filled": true, "opacity": 1, "color": "#000", "size": 256, "strokeWidth": 0, "shape": "M0,0L1,-0.38L0.72,0L1,0.38Z"},
    "encoding": {
     "x": {"field": "x2", "type": "quantitative", "scale": {"domain": [54.66, 65.21], "nice": false, "zero": false}, "axis": null},
     "y": {"field": "y2", "type": "quantitative", "scale": {"domain": [4.4, 20.75], "nice": false, "zero": false}, "axis": null}}}
  ]
 }
]
}
